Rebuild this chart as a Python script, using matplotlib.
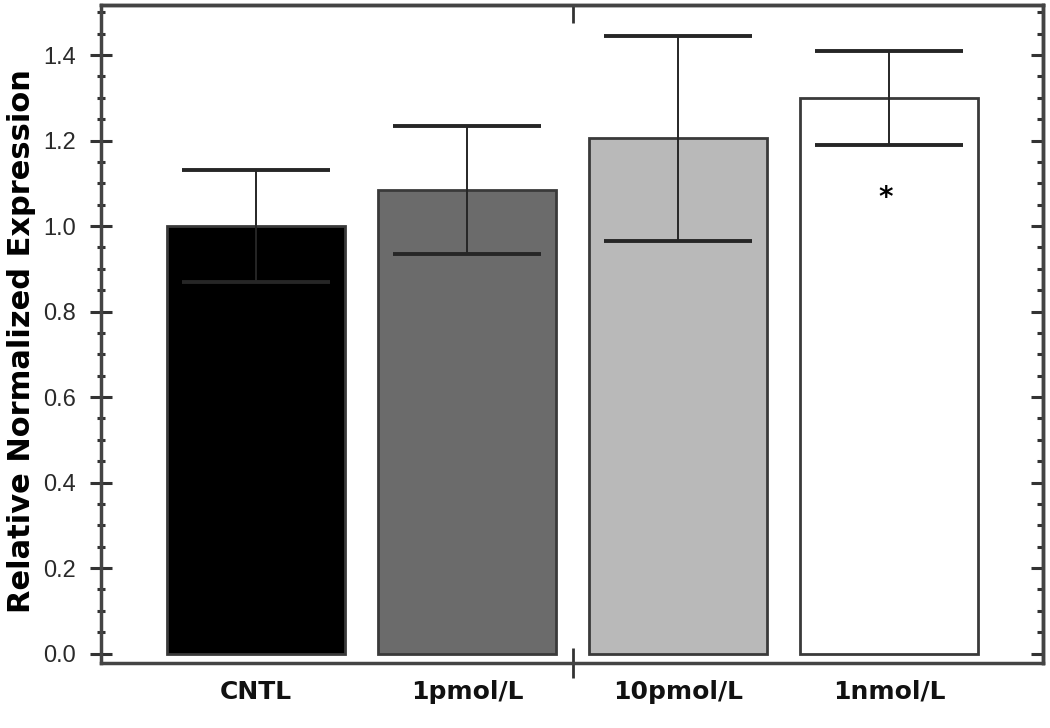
import matplotlib.pyplot as plt
from matplotlib.ticker import MultipleLocator, FixedLocator, NullFormatter

# values
groups = ['CNTL', '1pmol/L', '10pmol/L', '1nmol/L']
expression = [1.00, 1.085, 1.205, 1.30]
err = [0.13, 0.15, 0.24, 0.11]
bar_colors = ['#000000', '#6b6b6b', '#b9b9b9', '#ffffff']
sig_marks = ['', '', '', '*']

plt.rcParams['font.family'] = ['Liberation Sans Narrow', 'Liberation Sans', 'DejaVu Sans']

fig = plt.figure(figsize=(10.5, 7.28), dpi=100)
ax = fig.add_axes([0.0962, 0.0893, 0.8971, 0.9038])

x = list(range(len(groups)))
ax.bar(x, expression, width=0.84, color=bar_colors, edgecolor='#3a3a3a', linewidth=2, zorder=2)
ax.errorbar(x, expression, yerr=err, fmt='none', ecolor='#262626', elinewidth=1.4,
            capsize=53, capthick=2.8, zorder=3)

for xi, val, mark in zip(x, expression, sig_marks):
    if mark:
        ax.text(xi - 0.015, val - 0.235, mark, ha='center', va='center', fontsize=20,
                fontweight='bold', family=['DejaVu Sans'])

ax.set_xlim(-0.735, 3.73)
ax.set_ylim(-0.022, 1.517)

ax.yaxis.set_major_locator(MultipleLocator(0.2))
ax.yaxis.set_minor_locator(MultipleLocator(0.05))
ax.set_yticklabels([f'{v:.1f}' for v in ax.get_yticks()])
ax.tick_params(axis='y', which='major', direction='inout', length=16, width=2.2,
               labelsize=17, pad=10, colors='#333333', labelcolor='#2a2a2a')
ax.tick_params(axis='y', which='minor', direction='inout', length=6, width=2.2,
               colors='#333333')

# mirrored ticks on the right, pointing inward only
ax_r = ax.secondary_yaxis('right')
ax_r.yaxis.set_major_locator(MultipleLocator(0.2))
ax_r.yaxis.set_minor_locator(MultipleLocator(0.05))
ax_r.yaxis.set_major_formatter(NullFormatter())
ax_r.tick_params(which='major', direction='in', length=9, width=2.2, colors='#333333')
ax_r.tick_params(which='minor', direction='in', length=4, width=2.2, colors='#333333')
ax_r.spines['right'].set_linewidth(2.5)
ax_r.spines['right'].set_color('#444444')

# category labels without tick marks, one divider tick in the middle
ax.xaxis.set_major_locator(FixedLocator(x))
ax.set_xticklabels(groups, fontsize=18, fontweight='bold', family=['DejaVu Sans'])
ax.tick_params(axis='x', which='major', length=0, pad=12, labelcolor='#111111')
ax.xaxis.set_minor_locator(FixedLocator([1.5]))
ax.tick_params(axis='x', which='minor', direction='inout', length=22, width=2,
               colors='#333333')

ax_t = ax.secondary_xaxis('top')
ax_t.xaxis.set_major_locator(FixedLocator([1.5]))
ax_t.xaxis.set_major_formatter(NullFormatter())
ax_t.tick_params(direction='in', length=13, width=2, colors='#333333')
ax_t.spines['top'].set_linewidth(2.5)
ax_t.spines['top'].set_color('#444444')

for s in ax.spines.values():
    s.set_linewidth(2.5)
    s.set_color('#444444')

ax.set_ylabel('Relative Normalized Expression', fontsize=22, fontweight='bold',
              family=['DejaVu Sans'])
ax.yaxis.set_label_coords(-0.069, 0.49)

fig.savefig('out.png', dpi=100)
